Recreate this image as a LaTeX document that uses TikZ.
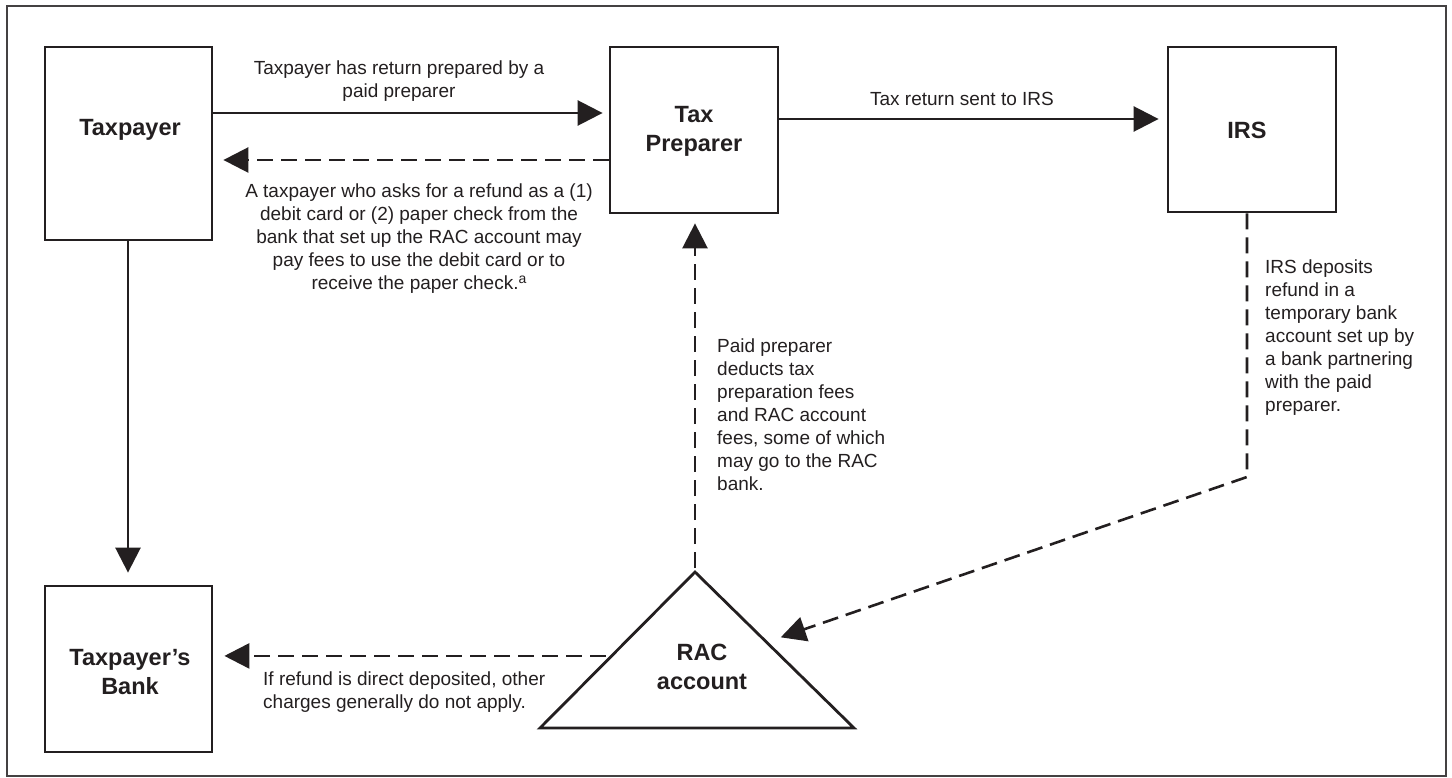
\documentclass[tikz,border=0pt]{standalone}
\usepackage{fontspec}
\setmainfont{Liberation Sans}
\usetikzlibrary{arrows.meta,calc}
\definecolor{ink}{RGB}{35,31,32}
\begin{document}
\begin{tikzpicture}[x=1pt,y=-1pt,
  box/.style={draw=ink, line width=2.8pt, inner sep=0pt},
  lbl/.style={font=\fontsize{23.5}{29}\selectfont\bfseries, text=ink, align=center, inner sep=0pt},
  txt/.style={font=\fontsize{19}{23}\selectfont, text=ink, inner sep=0pt},
  arr/.style={draw=ink, line width=2.6pt, -{Triangle[length=25pt,width=25pt]}},
  darr/.style={arr, dash pattern=on 16pt off 8pt},
]
\useasboundingbox (0,0) rectangle (1452,778);
\draw[ink!85, line width=1.5pt] (7,6) rectangle (1446,776);

% boxes
\node[box, minimum width=167pt, minimum height=193pt] (tp) at (128.5,143.5) {};
\node[box, minimum width=168pt, minimum height=166pt] (prep) at (694,130) {};
\node[box, minimum width=168pt, minimum height=165pt] (irs) at (1252,129.5) {};
\node[box, minimum width=167pt, minimum height=166pt] (bank) at (128.5,669) {};

% triangle
\coordinate (racTop) at (695,572);
\coordinate (racL) at (540,728);
\coordinate (racR) at (854,728);
\draw[ink, line width=2.8pt, line join=miter] (racTop) -- (racR) -- (racL) -- cycle;

% labels
\node[lbl] (tpL) at (130,130) {Taxpayer};
\node[lbl] (prepL) at (694,131) {Tax\\Preparer};
\node[lbl] (irsL) at (1247,130) {IRS};
\node[lbl] (bankL) at (130,672) {Taxpayer’s\\Bank};
\node[lbl] (racLbl) at (702,667) {RAC\\account};

% connectors
\draw[arr, shorten >=6pt] (tp.east |- 0,113) -- (prep.west |- 0,113);
\draw[darr, shorten >=10pt] (prep.west |- 0,160) -- (tp.east |- 0,160);
\draw[arr, shorten >=8pt] (prep.east |- 0,119) -- (irs.west |- 0,119);
\draw[arr, shorten >=12pt] (tp.south -| 128,0) -- (bank.north -| 128,0);
\draw[darr, shorten <=4pt, shorten >=9pt] (racTop) -- (prep.south -| racTop);
\coordinate (bend) at (1247,477);
\coordinate (racIn) at ($(racTop)!0.45!(racR)$);
\draw[darr, shorten >=15pt] (irs.south -| bend) -- (bend) -- (racIn);
\coordinate (racW) at ($(racTop)!0.538!(racL)$);
\draw[darr, shorten <=6pt, shorten >=11pt] (racW) -- (bank.east |- racW);

% texts
\node[txt, align=center, anchor=north] (t1) at (399,61) {Taxpayer has return prepared by a\\paid preparer};
\node[txt, align=center, anchor=north] (t2) at (419,184) {A taxpayer who asks for a refund as a (1)\\debit card or (2) paper check from the\\bank that set up the RAC account may\\pay fees to use the debit card or to\\receive the paper check.\raisebox{6pt}{\fontsize{14}{14}\selectfont a}};
\node[txt, anchor=base] (t3) at (962,106) {Tax return sent to IRS};
\node[txt, align=left, anchor=north west] (t4) at (717,339) {Paid preparer\\deducts tax\\preparation fees\\and RAC account\\fees, some of which\\may go to the RAC\\bank.};
\node[txt, align=left, anchor=north west] (t5) at (1265,260) {IRS deposits\\refund in a\\temporary bank\\account set up by\\a bank partnering\\with the paid\\preparer.};
\node[txt, align=left, anchor=north west] (t6) at (263,672) {If refund is direct deposited, other\\charges generally do not apply.};
\end{tikzpicture}
\end{document}
